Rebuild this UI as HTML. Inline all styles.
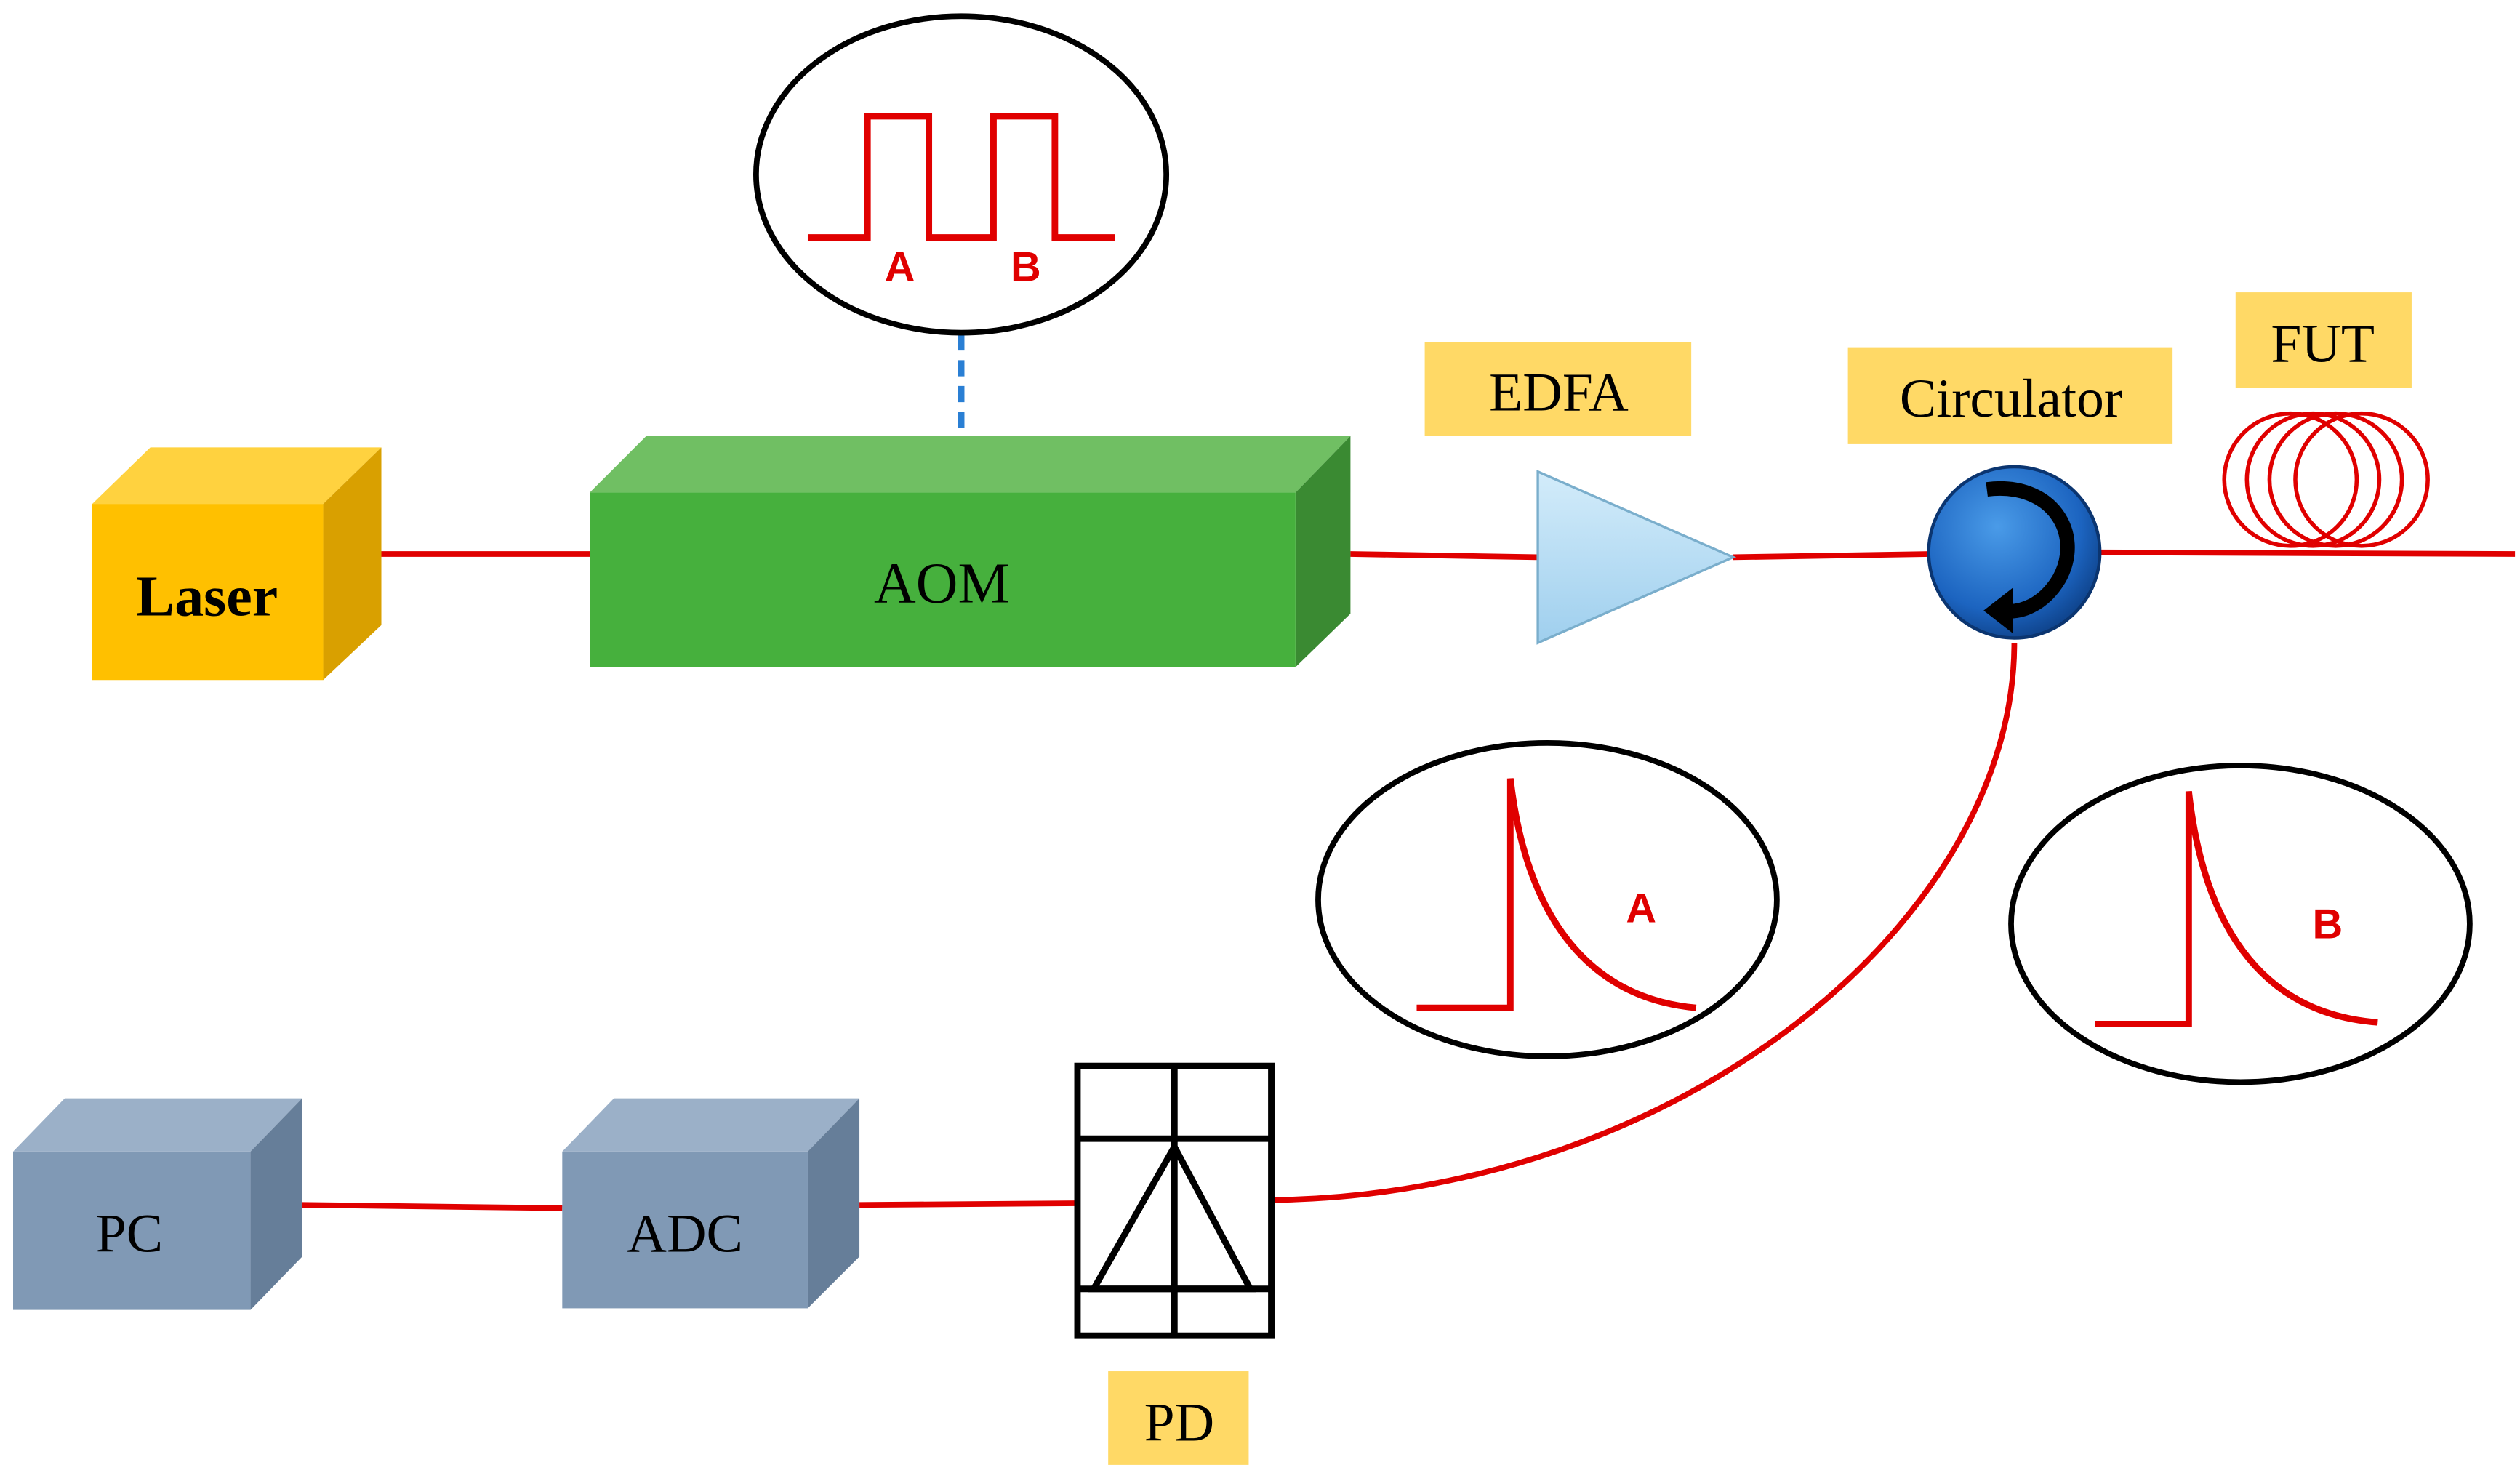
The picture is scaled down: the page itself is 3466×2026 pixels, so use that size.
<!DOCTYPE html>
<html><head><meta charset="utf-8"><style>
html,body{margin:0;padding:0;background:#fff;}
svg{display:block;}
</style></head><body>
<svg width="3466" height="2026" viewBox="0 0 1560 912" xmlns="http://www.w3.org/2000/svg">
<defs>
<radialGradient id="cg" cx="0.4" cy="0.35" r="0.7"><stop offset="0" stop-color="#4a9be8"/><stop offset="0.7" stop-color="#1c64c0"/><stop offset="1" stop-color="#0d3f85"/></radialGradient>
<linearGradient id="tg" x1="0" y1="0" x2="0" y2="1"><stop offset="0" stop-color="#d3ecfa"/><stop offset="1" stop-color="#9fcfee"/></linearGradient>
</defs>
<rect width="1560" height="912" fill="#fff"/>
<g stroke="#e00000" stroke-width="3.5" fill="none">
<line x1="236" y1="343" x2="365" y2="343"/>
<line x1="836" y1="343" x2="952" y2="345"/>
<line x1="1073" y1="345" x2="1195" y2="343"/>
<line x1="1300" y1="342" x2="1557" y2="343"/>
<path d="M1247,398 C1247,570 1040,740 787,743"/>
<line x1="187" y1="746" x2="348" y2="748"/>
<line x1="532" y1="746" x2="667" y2="745"/>
</g>
<!-- Laser -->
<polygon points="57,312 93,277 236,277 200,312" fill="#FFD23F"/>
<polygon points="200,312 236,277 236,387 200,421" fill="#D9A000"/>
<rect x="57" y="312" width="143" height="109" fill="#FFC000"/>
<text x="128" y="381" font-family="Liberation Serif,serif" font-weight="bold" font-size="36" text-anchor="middle">Laser</text>
<!-- AOM -->
<polygon points="365,305 400,270 836,270 802,305" fill="#70BF63"/>
<polygon points="802,305 836,270 836,380 802,413" fill="#3A8A32"/>
<rect x="365" y="305" width="437" height="108" fill="#46B03D"/>
<text x="583" y="373" font-family="Liberation Serif,serif" font-size="36" text-anchor="middle">AOM</text>
<line x1="595" y1="207" x2="595" y2="267" stroke="#2a7fd4" stroke-width="4" stroke-dasharray="10,6"/>
<ellipse cx="595" cy="108" rx="127" ry="98" fill="#fff" stroke="#000" stroke-width="3.5"/>
<path d="M500,147 H537 V72 H575 V147 H615 V72 H653 V147 H690" fill="none" stroke="#e00000" stroke-width="4"/>
<g font-family="Liberation Sans,sans-serif" font-weight="bold" font-size="26" fill="#e00000" text-anchor="middle">
<text x="557" y="174">A</text><text x="635" y="174">B</text>
<text x="1016" y="571">A</text><text x="1441" y="581">B</text></g>
<!-- EDFA -->
<polygon points="952,292 1073,345 952,398" fill="url(#tg)" stroke="#7aaecc" stroke-width="1.5"/>
<rect x="882" y="212" width="165" height="58" fill="#FFD966"/>
<text x="965" y="254" font-family="Liberation Serif,serif" font-size="34" text-anchor="middle">EDFA</text>
<!-- Circulator -->
<circle cx="1247" cy="342" r="53" fill="url(#cg)" stroke="#0b3570" stroke-width="2"/>
<path d="M1230,303 C1270,298 1290,330 1275,358 C1265,375 1250,380 1240,378" fill="none" stroke="#000" stroke-width="9"/>
<polygon points="1228,378 1246,364 1246,392" fill="#000"/>
<rect x="1144" y="215" width="201" height="60" fill="#FFD966"/>
<text x="1245" y="258" font-family="Liberation Serif,serif" font-size="34" text-anchor="middle">Circulator</text>
<!-- FUT -->
<rect x="1384" y="181" width="109" height="59" fill="#FFD966"/>
<text x="1438" y="224" font-family="Liberation Serif,serif" font-size="34" text-anchor="middle">FUT</text>
<g fill="none" stroke="#e00000" stroke-width="2.5">
<circle cx="1418" cy="297" r="41"/><circle cx="1432" cy="297" r="41"/><circle cx="1446" cy="297" r="41"/><circle cx="1462" cy="297" r="41"/></g>
<!-- ellipses A,B -->
<ellipse cx="958" cy="557" rx="142" ry="97" fill="#fff" stroke="#000" stroke-width="3.5"/>
<path d="M877,624 H935 V482 C945,570 985,618 1050,624" fill="none" stroke="#e00000" stroke-width="4"/>
<ellipse cx="1387" cy="572" rx="142" ry="98" fill="#fff" stroke="#000" stroke-width="3.5"/>
<path d="M1297,634 H1355 V490 C1365,580 1405,628 1472,633" fill="none" stroke="#e00000" stroke-width="4"/>
<text x="1016" y="571" font-family="Liberation Sans,sans-serif" font-weight="bold" font-size="26" fill="#e00000" text-anchor="middle">A</text>
<text x="1441" y="581" font-family="Liberation Sans,sans-serif" font-weight="bold" font-size="26" fill="#e00000" text-anchor="middle">B</text>
<!-- PD -->
<g stroke="#000" stroke-width="4" fill="none">
<rect x="667" y="660" width="120" height="167" fill="#fff"/>
<line x1="727" y1="660" x2="727" y2="827"/>
<line x1="667" y1="705" x2="787" y2="705"/>
<polygon points="727,710 677,798 774,798"/>
<line x1="667" y1="798" x2="787" y2="798"/>
</g>
<rect x="686" y="849" width="87" height="58" fill="#FFD966"/>
<text x="730" y="892" font-family="Liberation Serif,serif" font-size="34" text-anchor="middle">PD</text>
<!-- ADC -->
<polygon points="348,713 380,680 532,680 500,713" fill="#9BB0C8"/>
<polygon points="500,713 532,680 532,778 500,810" fill="#667E99"/>
<rect x="348" y="713" width="152" height="97" fill="#8099B5"/>
<text x="424" y="775" font-family="Liberation Serif,serif" font-size="34" text-anchor="middle">ADC</text>
<!-- PC -->
<polygon points="8,713 40,680 187,680 155,713" fill="#9BB0C8"/>
<polygon points="155,713 187,680 187,778 155,811" fill="#667E99"/>
<rect x="8" y="713" width="147" height="98" fill="#8099B5"/>
<text x="80" y="775" font-family="Liberation Serif,serif" font-size="34" text-anchor="middle">PC</text>
</svg>
</body></html>
